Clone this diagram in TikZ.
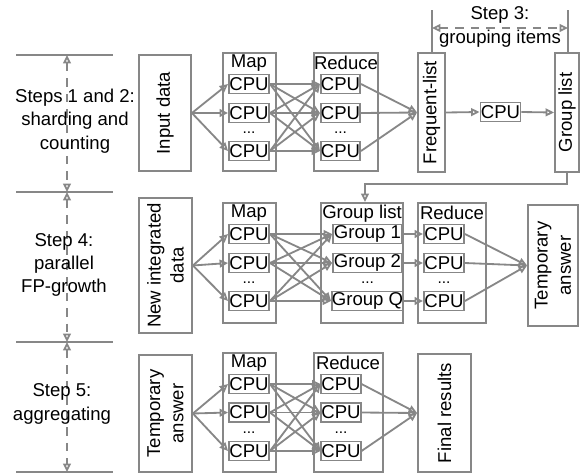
\documentclass[tikz,border=0pt]{standalone}
\usepackage{fontspec}
\setmainfont{Liberation Sans}
\usetikzlibrary{arrows.meta}
\definecolor{linegray}{RGB}{135,135,135}

\begin{document}
\begin{tikzpicture}[x=0.025cm, y=-0.025cm,
  every node/.style={font=\fontsize{13.2}{16.5}\selectfont, inner sep=0pt},
  box/.style={draw=linegray, line width=1.3pt},
  cpu/.style={box, minimum width=1.0cm, minimum height=0.475cm},
  grp/.style={box, minimum width=1.725cm, minimum height=0.475cm},
  dots/.style={font=\fontsize{11}{11}\selectfont, text height=1.5pt, text depth=0pt},
  arr/.style={draw=linegray, line width=1.3pt, -{Triangle[open, length=6pt, width=5.5pt]}},
  steparr/.style={draw=linegray, line width=1.3pt, dash pattern=on 6pt off 5pt,
    {Triangle[open, length=6pt, width=5.5pt]}-{Triangle[open, length=6pt, width=5.5pt]}},
  rule/.style={draw=linegray, line width=1.3pt}]
\useasboundingbox (0,0) rectangle (580,475);

% step marks on the left
\coordinate (t0) at (67,55);
\coordinate (t1) at (67,192);
\coordinate (t2) at (67,342);
\coordinate (t3) at (67,472);
\draw[rule] (16,55) -- (113,55);
\draw[rule] (16,192) -- (113,192);
\draw[rule] (16,342) -- (113,342);
\draw[rule] (16,472) -- (113,472);
\draw[steparr] (t0) -- (t1);
\draw[steparr] (t1) -- (t2);
\draw[steparr] (t2) -- (t3);
\node[align=center] (s12) at (75,121) {Steps 1 and 2:\\sharding and\\counting};
\node[align=center] (s4) at (64,265) {Step 4:\\parallel\\FP-growth};
\node[align=center] (s5) at (62,404) {Step 5:\\aggregating};

% row 1
\node[box, minimum width=1.3cm, minimum height=2.9cm] (input) at (165,113) {};
\node[rotate=90] (inputt) at (input) {Input data};
\node[box, minimum width=1.325cm, minimum height=2.95cm] (map1) at (249.5,112) {};
\node (map1t) at (249,63) {Map};
\node[cpu] (m1a) at (249,84) {CPU};
\node[cpu] (m1b) at (249,113) {CPU};
\node[dots] (m1d) at (249,132) {...};
\node[cpu] (m1c) at (249,151) {CPU};
\node[box, minimum width=1.6cm, minimum height=2.95cm] (red1) at (346,112) {};
\node (red1t) at (346,63) {Reduce};
\node[cpu, minimum width=0.975cm] (r1a) at (340.5,84) {CPU};
\node[cpu, minimum width=0.975cm] (r1b) at (340.5,113) {CPU};
\node[dots] (r1d) at (340.5,132) {...};
\node[cpu, minimum width=0.975cm] (r1c) at (340.5,151) {CPU};
\node[box, minimum width=0.675cm, minimum height=2.975cm] (freq) at (431.5,112.5) {};
\node[rotate=90] (freqt) at (freq) {Frequent-list};
\node[cpu] (gcpu) at (500.5,112) {CPU};
\node[box, minimum width=0.6cm, minimum height=2.975cm] (glist) at (567,112.5) {};
\node[rotate=90] (glistt) at (glist) {Group list};

% step 3
\coordinate (b3l) at (432,10);
\coordinate (b3r) at (568,10);
\draw[rule] (b3l) -- (b3l |- freq.north);
\draw[rule] (b3r) -- (b3r |- glist.north);
\draw[steparr] (432,28) -- (568,28);
\node[align=center] (s3) at (500,27) {Step 3:\\grouping items};

\draw[arr] (input.east) -- (m1a.west);
\draw[arr] (input.east) -- (m1b.west);
\draw[arr] (input.east) -- (m1c.west);
\draw[arr] (m1a.east) -- (r1a.west);
\draw[arr] (m1a.east) -- (r1b.west);
\draw[arr] (m1a.east) -- (r1c.west);
\draw[arr] (m1b.east) -- (r1a.west);
\draw[arr] (m1b.east) -- (r1b.west);
\draw[arr] (m1b.east) -- (r1c.west);
\draw[arr] (m1c.east) -- (r1a.west);
\draw[arr] (m1c.east) -- (r1b.west);
\draw[arr] (m1c.east) -- (r1c.west);
\draw[arr] (r1a.east) -- (freq.west);
\draw[arr] (r1b.east) -- (freq.west);
\draw[arr] (r1c.east) -- (freq.west);
\draw[arr] (freq.east) -- (gcpu.west);
\draw[arr] (gcpu.east) -- (glist.west);

% row 2
\node[box, minimum width=1.325cm, minimum height=3.375cm] (newdata) at (165.5,265.5) {};
\node[rotate=90, align=center] (newdatat) at (newdata) {New integrated\\data};
\node[box, minimum width=1.325cm, minimum height=3.0cm] (map2) at (249.5,263) {};
\node (map2t) at (249,213) {Map};
\node[cpu] (m2a) at (249,234) {CPU};
\node[cpu] (m2b) at (249,263) {CPU};
\node[dots] (m2d) at (249,282) {...};
\node[cpu] (m2c) at (249,301) {CPU};
\node[box, minimum width=2.05cm, minimum height=3.0cm] (grp) at (362,263) {};
\node (grpt) at (362,214) {Group list};
\node[grp] (g2a) at (367.5,234) {Group 1};
\node[grp] (g2b) at (367.5,263) {Group 2};
\node[dots] (g2d) at (367.5,282) {...};
\node[grp] (g2c) at (367.5,301) {Group Q};
\node[box, minimum width=1.7cm, minimum height=3.0cm] (red2) at (452,263) {};
\node (red2t) at (452,213) {Reduce};
\node[cpu] (r2a) at (444,234) {CPU};
\node[cpu] (r2b) at (444,263) {CPU};
\node[dots] (r2d) at (444,282) {...};
\node[cpu] (r2c) at (444,301) {CPU};
\node[box, minimum width=1.25cm, minimum height=3.025cm] (temp) at (553,265.5) {};
\node[rotate=90, align=center] (tempt) at (temp) {Temporary\\answer};

\draw[arr] (glist.south) -- ++(0,11) -| ([xshift=0.075cm]grp.north);
\draw[arr] (newdata.east) -- (m2a.west);
\draw[arr] (newdata.east) -- (m2b.west);
\draw[arr] (newdata.east) -- (m2c.west);
\draw[arr] (m2a.east) -- (g2a.west);
\draw[arr] (m2a.east) -- (g2b.west);
\draw[arr] (m2a.east) -- (g2c.west);
\draw[arr] (m2b.east) -- (g2a.west);
\draw[arr] (m2b.east) -- (g2b.west);
\draw[arr] (m2b.east) -- (g2c.west);
\draw[arr] (m2c.east) -- (g2a.west);
\draw[arr] (m2c.east) -- (g2b.west);
\draw[arr] (m2c.east) -- (g2c.west);
\draw[arr] (g2a.east) -- (r2a.west);
\draw[arr] (g2b.east) -- (r2b.west);
\draw[arr] (g2c.east) -- (r2c.west);
\draw[arr] (r2a.east) -- (temp.west);
\draw[arr] (r2b.east) -- (temp.west);
\draw[arr] (r2c.east) -- (temp.west);

% row 3
\node[box, minimum width=1.325cm, minimum height=2.925cm] (temp2) at (165.5,413.5) {};
\node[rotate=90, align=center] (temp2t) at (temp2) {Temporary\\answer};
\node[box, minimum width=1.325cm, minimum height=2.975cm] (map3) at (249.5,412.5) {};
\node (map3t) at (249,363) {Map};
\node[cpu] (m3a) at (249,384) {CPU};
\node[cpu] (m3b) at (249,412.5) {CPU};
\node[dots] (m3d) at (249,432) {...};
\node[cpu] (m3c) at (249,451) {CPU};
\node[box, minimum width=1.725cm, minimum height=2.975cm] (red3) at (348.5,412.5) {};
\node (red3t) at (348,363) {Reduce};
\node[cpu, minimum width=0.95cm] (r3a) at (341,384) {CPU};
\node[cpu, minimum width=0.95cm] (r3b) at (341,412.5) {CPU};
\node[dots] (r3d) at (341,432) {...};
\node[cpu, minimum width=0.95cm] (r3c) at (341,451) {CPU};
\node[box, minimum width=1.325cm, minimum height=2.95cm] (final) at (444.5,413) {};
\node[rotate=90] (finalt) at (final) {Final results};

\draw[arr] (temp2.east) -- (m3a.west);
\draw[arr] (temp2.east) -- (m3b.west);
\draw[arr] (temp2.east) -- (m3c.west);
\draw[arr] (m3a.east) -- (r3a.west);
\draw[arr] (m3a.east) -- (r3b.west);
\draw[arr] (m3a.east) -- (r3c.west);
\draw[arr] (m3b.east) -- (r3a.west);
\draw[arr] (m3b.east) -- (r3b.west);
\draw[arr] (m3b.east) -- (r3c.west);
\draw[arr] (m3c.east) -- (r3a.west);
\draw[arr] (m3c.east) -- (r3b.west);
\draw[arr] (m3c.east) -- (r3c.west);
\draw[arr] (r3a.east) -- (final.west);
\draw[arr] (r3b.east) -- (final.west);
\draw[arr] (r3c.east) -- (final.west);
\end{tikzpicture}
\end{document}
